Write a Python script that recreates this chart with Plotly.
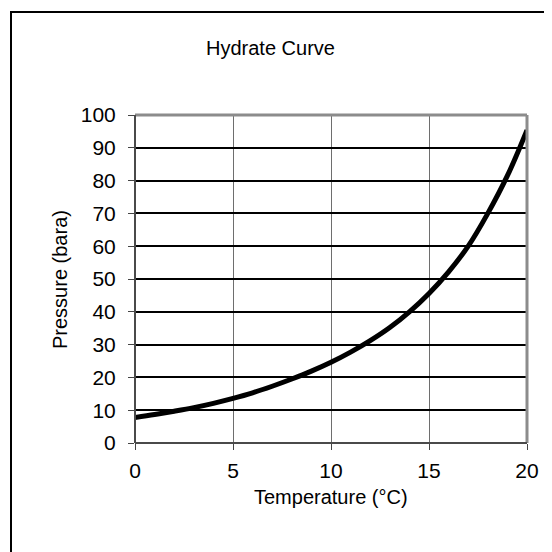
import plotly.graph_objects as go

temperature_c = [0, 1, 2, 3, 4, 5, 6, 7, 8, 9, 10, 11, 12, 13, 14, 15, 16, 17, 18, 19, 20]
pressure_bara = [7.8, 8.7, 9.7, 10.8, 12.1, 13.6, 15.3, 17.3, 19.5, 21.9, 24.6,
                 27.7, 31.2, 35.2, 40.0, 45.6, 52.2, 60.0, 70.0, 81.5, 95.4]
x_ticks = [0, 5, 10, 15, 20]
y_ticks = [0, 10, 20, 30, 40, 50, 60, 70, 80, 90, 100]

FONT = "Liberation Sans, Arial, sans-serif"

# the page body has an 8px default margin; compensate so the figure lands
# where the reference chart is on the 552x552 screen
OFF = 8
W, H = 552 - OFF, 552 - OFF
L, T = 135 - OFF, 115 - OFF
R = W - (527 - OFF)
B = H - (443 - OFF)
pw, ph = W - L - R, H - T - B


def px_to_paper_x(px):
    return (px - OFF - L) / pw


def px_to_paper_y(py):
    return (H - B - (py - OFF)) / ph


fig = go.Figure()
fig.add_trace(go.Scatter(
    x=temperature_c, y=pressure_bara, mode="lines",
    line=dict(color="black", width=5, shape="spline", smoothing=1.0),
    hoverinfo="skip", showlegend=False,
))

fig.update_layout(
    width=W, height=H,
    margin=dict(l=L, r=R, t=T, b=B, pad=0),
    paper_bgcolor="white", plot_bgcolor="white",
    font=dict(family=FONT, size=20, color="black"),
    showlegend=False,
    xaxis=dict(
        range=[0, 20], tickvals=x_ticks, ticktext=[str(v) for v in x_ticks],
        showgrid=True, gridcolor="#6e6e6e", gridwidth=1,
        showline=False, zeroline=False,
        ticks="outside", ticklen=6, tickcolor="#444", tickwidth=1,
        ticklabelstandoff=3,
        tickfont=dict(size=21, family=FONT), fixedrange=True,
    ),
    yaxis=dict(
        range=[0, 100], tickvals=y_ticks, ticktext=[str(v) for v in y_ticks],
        showgrid=True, gridcolor="black", gridwidth=2,
        showline=False, zeroline=False,
        ticks="outside", ticklen=6, tickcolor="#444", tickwidth=1,
        ticklabelstandoff=8,
        tickfont=dict(size=21, family=FONT), fixedrange=True,
    ),
    shapes=[
        # outer chart border
        dict(type="rect", xref="paper", yref="paper", layer="above",
             x0=px_to_paper_x(11), x1=px_to_paper_x(600),
             y0=px_to_paper_y(600), y1=px_to_paper_y(12),
             line=dict(color="black", width=2)),
        # plot area top / right border (gray)
        dict(type="line", xref="paper", yref="paper", layer="above",
             x0=0, x1=1, y0=1, y1=1, line=dict(color="#8c8c8c", width=3)),
        dict(type="line", xref="paper", yref="paper", layer="above",
             x0=1, x1=1, y0=0, y1=1, line=dict(color="#8c8c8c", width=3)),
        # left / bottom axis lines
        dict(type="line", xref="paper", yref="paper", layer="above",
             x0=0, x1=0, y0=0, y1=1, line=dict(color="#4a4a4a", width=2)),
        dict(type="line", xref="paper", yref="paper", layer="above",
             x0=0, x1=1, y0=0, y1=0, line=dict(color="#4a4a4a", width=2)),
    ],
    annotations=[
        dict(text="Hydrate Curve", xref="paper", yref="paper",
             x=px_to_paper_x(270), y=px_to_paper_y(48),
             xanchor="center", yanchor="middle", showarrow=False,
             font=dict(size=20, family=FONT)),
        dict(text="Pressure (bara)", xref="paper", yref="paper",
             x=px_to_paper_x(60), y=px_to_paper_y(280), textangle=-90,
             xanchor="center", yanchor="middle", showarrow=False,
             font=dict(size=20, family=FONT)),
        dict(text="Temperature (°C)", xref="paper", yref="paper",
             x=px_to_paper_x(331), y=px_to_paper_y(497),
             xanchor="center", yanchor="middle", showarrow=False,
             font=dict(size=20, family=FONT)),
    ],
)

fig.write_html("out.html", config={"displayModeBar": False})
